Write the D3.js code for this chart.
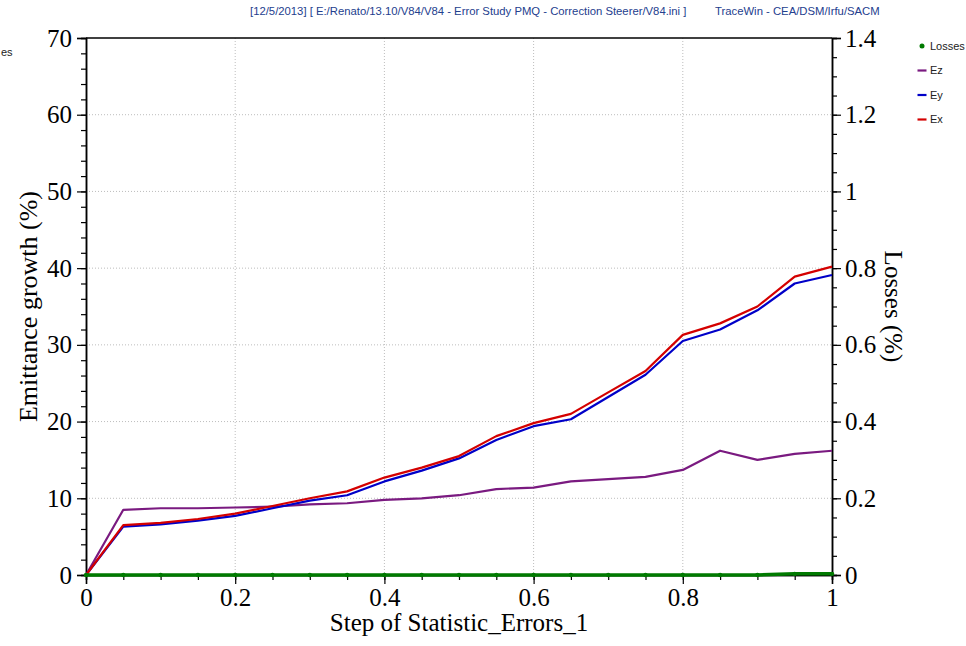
<!DOCTYPE html>
<html>
<head>
<meta charset="utf-8">
<script src="https://cdn.jsdelivr.net/npm/d3@7/dist/d3.min.js"></script>
<style>
  html, body { margin: 0; padding: 0; background: #ffffff; }
  svg { display: block; }
</style>
</head>
<body>
<svg id="chart" width="966" height="646"></svg>
<script>
// Error-study step (x) for each run
const steps = [0, 0.05, 0.1, 0.15, 0.2, 0.25, 0.3, 0.35, 0.4, 0.45, 0.5,
               0.55, 0.6, 0.65, 0.7, 0.75, 0.8, 0.85, 0.9, 0.95, 1];

// Emittance growth (%) per plane
const ex = [0, 6.5, 6.8, 7.3, 8.0, 9.0, 10.0, 10.9, 12.7, 14.0, 15.5,
            18.1, 19.8, 21.0, 23.8, 26.6, 31.3, 32.8, 35.0, 38.9, 40.2];
const ey = [0, 6.3, 6.6, 7.1, 7.7, 8.7, 9.7, 10.4, 12.2, 13.6, 15.2,
            17.6, 19.4, 20.3, 23.2, 26.1, 30.5, 32.0, 34.5, 38.0, 39.1];
const ez = [0, 8.5, 8.7, 8.7, 8.8, 8.9, 9.2, 9.35, 9.8, 10.0, 10.4,
            11.2, 11.4, 12.2, 12.5, 12.8, 13.7, 16.2, 15.0, 15.8, 16.2];

// Beam losses (%)
const losses = [0, 0, 0, 0, 0, 0, 0, 0, 0, 0, 0,
                0, 0, 0, 0, 0, 0, 0, 0, 0.003, 0.003];

// Tick labels
const xTicks = [0, 0.2, 0.4, 0.6, 0.8, 1];
const yLeftTicks = [0, 10, 20, 30, 40, 50, 60, 70];
const yRightTicks = [0, 0.2, 0.4, 0.6, 0.8, 1, 1.2, 1.4];

const headerText = "[12/5/2013] [ E:/Renato/13.10/V84/V84 - Error Study PMQ - Correction Steerer/V84.ini ]";
const creditText = "TraceWin - CEA/DSM/Irfu/SACM";

const legendItems = [
  { name: "Losses", color: "#007a00", kind: "dot" },
  { name: "Ez", color: "#7a1a80", kind: "dash" },
  { name: "Ey", color: "#0000c8", kind: "dash" },
  { name: "Ex", color: "#d40000", kind: "dash" }
];

const svg = d3.select("#chart");
const plot = { left: 86, right: 832, top: 38, bottom: 575 };

const x = d3.scaleLinear().domain([0, 1]).range([plot.left, plot.right]);
const yL = d3.scaleLinear().domain([0, 70]).range([plot.bottom, plot.top]);
const yR = d3.scaleLinear().domain([0, 1.4]).range([plot.bottom, plot.top]);

const serif = "'Liberation Serif', 'Times New Roman', serif";
const sans = "'Liberation Sans', Tahoma, Arial, sans-serif";

// Header
svg.append("text").attr("x", 250).attr("y", 15)
  .attr("font-family", sans).attr("font-size", 11.3).attr("fill", "#24408e")
  .text(headerText);
svg.append("text").attr("x", 715).attr("y", 15)
  .attr("font-family", sans).attr("font-size", 11.3).attr("fill", "#24408e")
  .text(creditText);

// Tail of a legend label at the left edge
svg.append("text").attr("x", 1).attr("y", 56)
  .attr("font-family", sans).attr("font-size", 11).attr("fill", "#222")
  .text("es");

// Grid
const grid = svg.append("g").attr("stroke", "#bdbdbd").attr("stroke-dasharray", "1,2").attr("stroke-width", 1);
grid.selectAll("line.v").data(xTicks.filter(d => d > 0 && d < 1)).join("line")
  .attr("x1", d => x(d)).attr("x2", d => x(d))
  .attr("y1", plot.top).attr("y2", plot.bottom);
grid.selectAll("line.h").data(yLeftTicks.filter(d => d > 0 && d < 70)).join("line")
  .attr("class", "h")
  .attr("x1", plot.left).attr("x2", plot.right)
  .attr("y1", d => yL(d)).attr("y2", d => yL(d));

// Axes
function styleAxis(g) {
  g.selectAll("path").attr("stroke", "#000").attr("stroke-width", 1.5);
  g.selectAll("line").attr("stroke", "#000").attr("stroke-width", 1.2);
  g.selectAll("text").attr("font-family", serif).attr("font-size", 25).attr("fill", "#000");
}

const xMinor = d3.range(0, 21).map(i => i * 0.05);
const yLMinor = d3.range(0, 36).map(i => i * 2);
const yRMinor = d3.range(0, 29).map(i => i * 0.05);

// minor ticks
svg.append("g").attr("transform", `translate(0,${plot.bottom})`)
  .call(d3.axisBottom(x).tickValues(xMinor).tickSize(5).tickFormat(""))
  .call(styleAxis);
svg.append("g").attr("transform", `translate(${plot.left},0)`)
  .call(d3.axisLeft(yL).tickValues(yLMinor).tickSize(5).tickFormat(""))
  .call(styleAxis);
svg.append("g").attr("transform", `translate(${plot.right},0)`)
  .call(d3.axisRight(yR).tickValues(yRMinor).tickSize(5).tickFormat(""))
  .call(styleAxis);

// major ticks with labels
svg.append("g").attr("transform", `translate(0,${plot.bottom})`)
  .call(d3.axisBottom(x).tickValues(xTicks).tickSize(9).tickPadding(4).tickFormat(d3.format("~g")))
  .call(styleAxis);
svg.append("g").attr("transform", `translate(${plot.left},0)`)
  .call(d3.axisLeft(yL).tickValues(yLeftTicks).tickSize(9).tickPadding(5).tickFormat(d3.format("d")))
  .call(styleAxis);
svg.append("g").attr("transform", `translate(${plot.right},0)`)
  .call(d3.axisRight(yR).tickValues(yRightTicks).tickSize(9).tickPadding(4).tickFormat(d3.format("~g")))
  .call(styleAxis);

// top frame line
svg.append("line").attr("x1", plot.left).attr("x2", plot.right)
  .attr("y1", plot.top).attr("y2", plot.top)
  .attr("stroke", "#000").attr("stroke-width", 1.5);

// Axis titles
svg.append("text")
  .attr("transform", `translate(37,${(plot.top + plot.bottom) / 2}) rotate(-90)`)
  .attr("text-anchor", "middle").attr("font-family", serif).attr("font-size", 26)
  .text("Emittance growth (%)");
svg.append("text")
  .attr("transform", `translate(885,${(plot.top + plot.bottom) / 2}) rotate(90)`)
  .attr("text-anchor", "middle").attr("font-family", serif).attr("font-size", 25)
  .text("Losses (%)");
svg.append("text")
  .attr("x", (plot.left + plot.right) / 2).attr("y", 631)
  .attr("text-anchor", "middle").attr("font-family", serif).attr("font-size", 25)
  .text("Step of Statistic_Errors_1");

// Series
const lineL = d3.line().x((d, i) => x(steps[i])).y(d => yL(d));
const lineR = d3.line().x((d, i) => x(steps[i])).y(d => yR(d));

const series = [
  { values: ez, color: "#7a1a80" },
  { values: ey, color: "#0000c8" },
  { values: ex, color: "#d40000" }
];
svg.append("g").selectAll("path").data(series).join("path")
  .attr("d", d => lineL(d.values))
  .attr("fill", "none").attr("stroke", d => d.color)
  .attr("stroke-width", 2.2).attr("stroke-linejoin", "round");

svg.append("path").attr("d", lineR(losses))
  .attr("fill", "none").attr("stroke", "#007a00").attr("stroke-width", 3.5);
svg.append("g").selectAll("circle").data(losses).join("circle")
  .attr("cx", (d, i) => x(steps[i])).attr("cy", d => yR(d))
  .attr("r", 2.2).attr("fill", "#007a00");

// Legend
const legend = svg.append("g");
const legY = [46, 70.5, 95, 119.5];
legendItems.forEach((item, i) => {
  const g = legend.append("g").attr("transform", `translate(922,${legY[i]})`);
  if (item.kind === "dot") {
    g.append("circle").attr("r", 2.5).attr("fill", item.color);
  } else {
    g.append("line").attr("x1", -4.5).attr("x2", 4.5)
      .attr("stroke", item.color).attr("stroke-width", 2.2);
  }
  g.append("text").attr("x", 8).attr("dy", "0.35em")
    .attr("font-family", sans).attr("font-size", 11).attr("fill", "#222")
    .text(item.name);
});
</script>
</body>
</html>
